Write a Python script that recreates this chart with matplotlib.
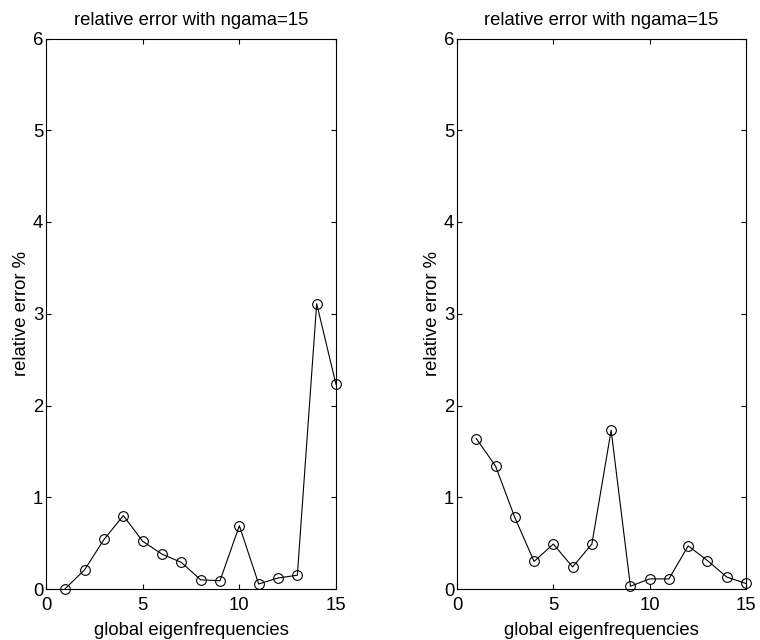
import matplotlib
matplotlib.use("Agg")
import matplotlib.pyplot as plt
import numpy as np

plt.rcParams['font.family'] = ['Liberation Sans', 'DejaVu Sans']

x = list(range(1, 16))
err_left = [0.005, 0.21, 0.54, 0.80, 0.52, 0.38, 0.29, 0.10, 0.09, 0.69, 0.055, 0.12, 0.15, 3.11, 2.23]
err_right = [1.64, 1.34, 0.78, 0.30, 0.49, 0.24, 0.49, 1.73, 0.03, 0.11, 0.11, 0.47, 0.31, 0.13, 0.06]
title = "relative error with ngama=15"
xlabel = "global eigenfrequencies"
ylabel = "relative error %"
xticks = [0, 5, 10, 15]
yticks = [0, 1, 2, 3, 4, 5, 6]

fig = plt.figure(figsize=(7.6, 6.4), dpi=100)
ax1 = fig.add_axes([46/760, 51/640, 290/760, 550.5/640])
ax2 = fig.add_axes([457/760, 51/640, 289/760, 550.5/640])

fs = 13.3
for ax, y in ((ax1, err_left), (ax2, err_right)):
    ax.plot(x, y, color='black', linewidth=0.8, marker='o', markersize=7,
            markerfacecolor='none', markeredgecolor='black', markeredgewidth=0.8,
            clip_on=False, zorder=3)
    ax.set_xlim(0, 15)
    ax.set_ylim(0, 6)
    ax.set_xticks(xticks)
    ax.set_yticks(yticks)
    ax.tick_params(direction='in', top=True, right=True, length=3.5, width=0.8,
                   labelsize=fs, pad=2)
    ax.tick_params(axis='x', pad=5.5)
    for s in ax.spines.values():
        s.set_linewidth(0.8)
    ax.set_title(title, fontsize=fs, pad=10)
    ax.set_xlabel(xlabel, fontsize=fs, labelpad=6)
    ax.set_ylabel(ylabel, fontsize=fs, labelpad=2)

fig.savefig("out.png", dpi=100)
